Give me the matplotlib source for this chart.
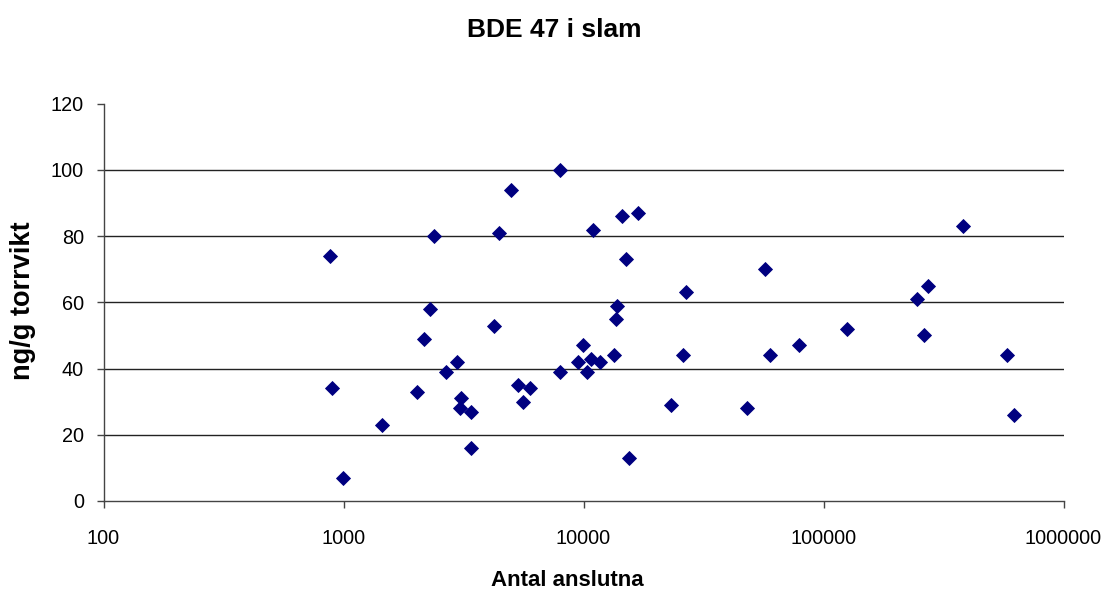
import matplotlib
matplotlib.use("Agg")
import matplotlib.pyplot as plt

plt.rcParams['font.family'] = ['Liberation Sans', 'DejaVu Sans']

# Data
connections = [880, 893, 993, 1443, 2032, 2170, 2287, 2390, 2680, 2979,
               3090, 3070, 3390, 3390, 4250, 4460, 4990, 5320, 5580, 5980,
               7980, 7960, 9460, 9980, 10370, 10750, 10970, 11720, 13430, 13650,
               13740, 14420, 14990, 15520, 16900, 23200, 26000, 26800, 47860, 57000,
               59700, 79100, 125300, 245000, 263000, 272000, 381000, 582000, 619000]
values = [74, 34, 7, 23, 33, 49, 58, 80, 39, 42,
          31, 28, 27, 16, 53, 81, 94, 35, 30, 34,
          100, 39, 42, 47, 39, 43, 82, 42, 44, 55,
          59, 86, 73, 13, 87, 29, 44, 63, 28, 70,
          44, 47, 52, 61, 50, 65, 83, 44, 26]

x_ticks = [100, 1000, 10000, 100000, 1000000]
x_tick_labels = ['100', '1000', '10000', '100000', '1000000']
y_ticks = [0, 20, 40, 60, 80, 100, 120]

title = 'BDE 47 i slam'
x_label = 'Antal anslutna'
y_label = 'ng/g torrvikt'

W, H = 1107, 591
fig = plt.figure(figsize=(W / 100, H / 100), dpi=100)
ax = fig.add_axes([103.5 / W, 1 - 501 / H, 960 / W, 397.3 / H])

ax.plot(connections, values, linestyle='none', marker='D', markersize=7.4,
        markerfacecolor='#000080', markeredgecolor='#000080', markeredgewidth=0.6,
        zorder=3, clip_on=False)

ax.set_xscale('log')
ax.set_xlim(x_ticks[0], x_ticks[-1])
ax.set_ylim(y_ticks[0], y_ticks[-1])
ax.set_xticks(x_ticks)
ax.set_xticklabels(x_tick_labels)
ax.xaxis.set_minor_locator(matplotlib.ticker.NullLocator())
ax.set_yticks(y_ticks)
ax.set_yticklabels([str(v) for v in y_ticks])

ax.yaxis.grid(True, color='#222222', linewidth=1.0)
ax.set_axisbelow(True)
gl = ax.get_ygridlines()
gl[0].set_visible(False)
gl[-1].set_visible(False)

for s in ['top', 'right']:
    ax.spines[s].set_visible(False)
for s in ['left', 'bottom']:
    ax.spines[s].set_color('#444444')
    ax.spines[s].set_linewidth(1.0)

ax.tick_params(axis='x', direction='out', length=5, width=1, color='#444444',
               labelsize=14.3, pad=15)
ax.tick_params(axis='y', direction='out', length=5, width=1, color='#444444',
               labelsize=14.3, pad=9)

fig.text(554.5 / W, 1 - 30 / H, title, ha='center', va='center',
         fontsize=19, fontweight='bold')
fig.text(567.5 / W, 1 - 580 / H, x_label, ha='center', va='center',
         fontsize=16, fontweight='bold')
fig.text(23 / W, 1 - 301 / H, y_label, ha='center', va='center',
         rotation=90, fontsize=19.5, fontweight='bold')

fig.savefig('out.png', dpi=100, facecolor='white')
